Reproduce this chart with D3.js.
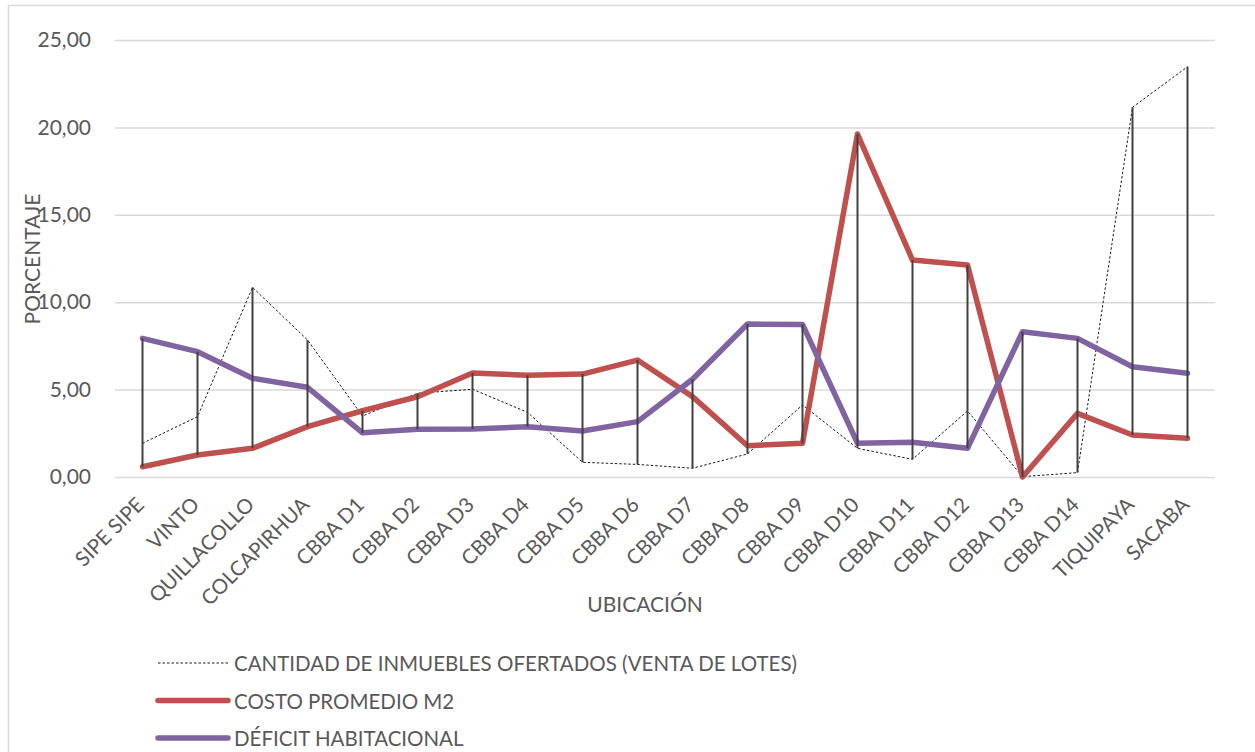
<!DOCTYPE html>
<html>
  <head>
    <meta charset="utf-8">
    <title>Ubicación</title>
    <script src="https://d3js.org/d3.v7.min.js"></script>
    <style>
      body { margin: 0; background: #fff; }
      svg text { font-family: Lato, "Open Sans", sans-serif; fill: #595959; }
    </style>
  </head>
  <body>
    <svg id="chart" width="1255" height="752"></svg>
    <script>
      // data
      var categories = ["SIPE SIPE", "VINTO", "QUILLACOLLO", "COLCAPIRHUA", "CBBA D1", "CBBA D2", "CBBA D3",
        "CBBA D4", "CBBA D5", "CBBA D6", "CBBA D7", "CBBA D8", "CBBA D9", "CBBA D10", "CBBA D11",
        "CBBA D12", "CBBA D13", "CBBA D14", "TIQUIPAYA", "SACABA"];
      var ofertados = [1.93, 3.45, 10.85, 7.84, 3.49, 4.79, 5.02, 3.7, 0.84, 0.72, 0.5, 1.32, 4.12,
        1.64, 1.01, 3.78, 0.02, 0.25, 21.15, 23.47];
      var costo = [0.59, 1.26, 1.64, 2.88, 3.79, 4.59, 5.95, 5.82, 5.89, 6.69, 4.6, 1.79, 1.93,
        19.62, 12.41, 12.13, 0.0, 3.64, 2.4, 2.21];
      var deficit = [7.93, 7.17, 5.65, 5.13, 2.53, 2.73, 2.75, 2.88, 2.63, 3.17, 5.59, 8.75, 8.73,
        1.93, 1.99, 1.64, 8.31, 7.93, 6.31, 5.93];
      var yTicks = [0, 5, 10, 15, 20, 25];
      var seriesNames = ["CANTIDAD DE INMUEBLES OFERTADOS (VENTA DE LOTES)", "COSTO PROMEDIO M2", "DÉFICIT HABITACIONAL"];

      var svg = d3.select("#chart");

      // chart frame (cut off by the window on the right and bottom)
      svg.append("rect")
        .attr("x", 8.5).attr("y", 5.5)
        .attr("width", 1400).attr("height", 900)
        .attr("fill", "none")
        .attr("stroke", "#d9d9d9")
        .attr("stroke-width", 1.5);

      var x = d3.scaleBand()
        .domain(categories)
        .range([115, 1215]);
      var y = d3.scaleLinear()
        .domain([0, 25])
        .range([477, 40]);
      var cx = function(i) { return x(categories[i]) + x.bandwidth() / 2; };

      // gridlines + y labels
      var yAxis = d3.axisLeft(y)
        .tickValues(yTicks)
        .tickSize(-1100)
        .tickPadding(24)
        .tickFormat(function(d) { return d3.format(".2f")(d).replace(".", ","); });
      var yg = svg.append("g")
        .attr("transform", "translate(115,0)")
        .call(yAxis);
      yg.select(".domain").remove();
      yg.selectAll(".tick line")
        .attr("stroke", "#d9d9d9")
        .attr("stroke-width", 1.5);
      yg.selectAll(".tick text")
        .attr("font-size", 21)
        .attr("fill", "#595959")
        .style("font-family", "Lato, sans-serif");

      // x labels
      var xAxis = d3.axisBottom(x).tickSize(0).tickPadding(0);
      var xg = svg.append("g")
        .attr("transform", "translate(0,477)")
        .call(xAxis);
      xg.select(".domain").remove();
      xg.selectAll(".tick text")
        .attr("font-size", 20.5)
        .attr("fill", "#595959")
        .style("font-family", "Lato, sans-serif")
        .attr("text-anchor", "end")
        .attr("dy", null)
        .attr("y", 0)
        .attr("transform", "translate(3,29) rotate(-45)");

      // series
      var line = function(vals) {
        return d3.line()
          .x(function(d, i) { return cx(i); })
          .y(function(d) { return y(d); })(vals);
      };
      svg.append("path")
        .attr("d", line(ofertados))
        .attr("fill", "none")
        .attr("stroke", "#000")
        .attr("stroke-width", 0.9)
        .attr("stroke-dasharray", "2.5,2");
      svg.append("path")
        .attr("d", line(costo))
        .attr("fill", "none")
        .attr("stroke", "#C0504D")
        .attr("stroke-width", 5.5)
        .attr("stroke-linejoin", "round")
        .attr("stroke-linecap", "round");
      svg.append("path")
        .attr("d", line(deficit))
        .attr("fill", "none")
        .attr("stroke", "#8064A2")
        .attr("stroke-width", 5.5)
        .attr("stroke-linejoin", "round")
        .attr("stroke-linecap", "round");

      // high-low lines
      svg.append("g")
        .selectAll("line")
          .data(categories)
        .enter().append("line")
          .attr("x1", function(d, i) { return cx(i); })
          .attr("x2", function(d, i) { return cx(i); })
          .attr("y1", function(d, i) { return y(Math.max(ofertados[i], costo[i], deficit[i])); })
          .attr("y2", function(d, i) { return y(Math.min(ofertados[i], costo[i], deficit[i])); })
          .attr("stroke", "#404040")
          .attr("stroke-width", 2);

      // axis titles
      svg.append("text")
        .attr("x", 645).attr("y", 612)
        .attr("text-anchor", "middle")
        .attr("font-size", 21)
        .text("UBICACIÓN");
      svg.append("text")
        .attr("transform", "translate(40,259) rotate(-90)")
        .attr("text-anchor", "middle")
        .attr("font-size", 21)
        .text("PORCENTAJE");

      // legend
      var legend = svg.append("g")
        .selectAll("g")
          .data(seriesNames)
        .enter().append("g")
          .attr("transform", function(d, i) { return "translate(158," + (663 + i * 37.5) + ")"; });
      legend.append("line")
        .attr("x1", 0).attr("x2", 70)
        .attr("stroke", function(d, i) { return ["#000", "#C0504D", "#8064A2"][i]; })
        .attr("stroke-width", function(d, i) { return i ? 5.5 : 0.9; })
        .attr("stroke-dasharray", function(d, i) { return i ? null : "2.5,2"; })
        .attr("stroke-linecap", function(d, i) { return i ? "round" : "butt"; });
      legend.append("text")
        .attr("x", 76).attr("y", 8)
        .attr("font-size", 20.5)
        .text(function(d) { return d; });
    </script>
  </body>
</html>
